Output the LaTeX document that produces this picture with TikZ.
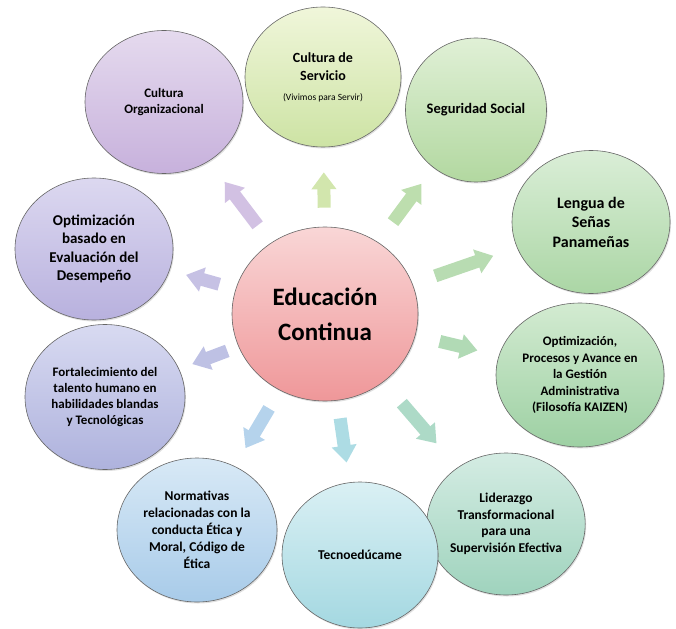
\documentclass[tikz,border=0pt]{standalone}
\usepackage{fontspec}
\setmainfont{Carlito}
\usetikzlibrary{shapes.geometric,arrows.meta,shadows}
\definecolor{rosaA}{HTML}{F9D6D6}\definecolor{rosaB}{HTML}{EF9799}
\definecolor{moradoA}{HTML}{E5DAEE}\definecolor{moradoB}{HTML}{C7B1DC}
\definecolor{limaA}{HTML}{F0F6DA}\definecolor{limaB}{HTML}{CDE3A4}
\definecolor{verdeA}{HTML}{E0F0D6}\definecolor{verdeB}{HTML}{B2D8A0}
\definecolor{pastoA}{HTML}{DAEED7}\definecolor{pastoB}{HTML}{ABD6A5}
\definecolor{mentaA}{HTML}{D3EBD1}\definecolor{mentaB}{HTML}{9DD0A3}
\definecolor{aguaA}{HTML}{D4ECE3}\definecolor{aguaB}{HTML}{9FD3BD}
\definecolor{cianA}{HTML}{DAF0F4}\definecolor{cianB}{HTML}{A4D8E1}
\definecolor{celesteA}{HTML}{D8E9F6}\definecolor{celesteB}{HTML}{A8CBE9}
\definecolor{azulA}{HTML}{D8DAF1}\definecolor{azulB}{HTML}{AEB2DD}
\definecolor{lilaA}{HTML}{DCD8F0}\definecolor{lilaB}{HTML}{B8B1DE}
\begin{document}
\begin{tikzpicture}[x=1pt,y=1pt,
    burbuja/.style={ellipse,draw=black!60,line width=.6pt,inner sep=0pt,align=center,
      drop shadow={opacity=.25,shadow xshift=1pt,shadow yshift=-1.5pt}},
    relleno/.style 2 args={top color=#1,bottom color=#2},
    flecha/.style={line width=13pt,-{Triangle[width=24pt,length=17pt]}}]
    \useasboundingbox (0,0) rectangle (676,-628);
    \node[burbuja,relleno={rosaA}{rosaB},minimum width=186pt,minimum height=174pt,font=\bfseries\fontsize{25}{35}\selectfont] (edu) at (325,-314) {Educación\\Continua};
    \node[burbuja,relleno={moradoA}{moradoB},minimum width=158pt,minimum height=143pt,font=\bfseries\fontsize{13}{16.7}\selectfont] (org) at (164,-102) {Cultura\\Organizacional};
    \node[burbuja,relleno={limaA}{limaB},minimum width=156pt,minimum height=140pt,font=\bfseries\fontsize{14}{18}\selectfont] (serv) at (323,-77) {Cultura de\\Servicio\\[2pt]{\mdseries\fontsize{9.5}{12}\selectfont(Vivimos para Servir)}};
    \node[burbuja,relleno={verdeA}{verdeB},minimum width=141pt,minimum height=144pt,font=\bfseries\fontsize{14.5}{18}\selectfont] (seg) at (476,-110) {Seguridad Social};
    \node[burbuja,relleno={pastoA}{pastoB},minimum width=158pt,minimum height=143pt,font=\bfseries\fontsize{16}{19.5}\selectfont] (senas) at (591,-222) {Lengua de\\Señas\\Panameñas};
    \node[burbuja,relleno={mentaA}{mentaB},minimum width=168pt,minimum height=144pt,font=\bfseries\fontsize{13}{16.5}\selectfont] (kaizen) at (580,-375) {Optimización,\\Procesos y Avance en\\la Gestión\\Administrativa\\(Filosofía KAIZEN)};
    \node[burbuja,relleno={aguaA}{aguaB},minimum width=142pt,minimum height=142pt,font=\bfseries\fontsize{13.5}{16.5}\selectfont] (lider) at (506,-524) {Liderazgo\\Transformacional\\para una\\Supervisión Efectiva};
    \node[burbuja,relleno={cianA}{cianB},minimum width=156pt,minimum height=146pt,font=\bfseries\fontsize{13.5}{16.5}\selectfont] (tecno) at (360,-555) {Tecnoedúcame};
    \node[burbuja,relleno={celesteA}{celesteB},minimum width=160pt,minimum height=144pt,font=\bfseries\fontsize{13.5}{17}\selectfont] (norma) at (197,-530) {Normativas\\relacionadas con la\\conducta Ética y\\Moral, Código de\\Ética};
    \node[burbuja,relleno={azulA}{azulB},minimum width=160pt,minimum height=145pt,font=\bfseries\fontsize{13}{15.7}\selectfont] (talento) at (105,-397) {Fortalecimiento del\\talento humano en\\habilidades blandas\\y Tecnológicas};
    \node[burbuja,relleno={lilaA}{lilaB},minimum width=158pt,minimum height=142pt,font=\bfseries\fontsize{15}{18.3}\selectfont] (desemp) at (94,-249) {Optimización\\basado en\\Evaluación del\\Desempeño};
    \draw[flecha,moradoB!80,shorten <=22pt,shorten >=26pt] (edu) -- (org);
    \draw[flecha,limaB!90,shorten <=19pt,shorten >=25pt] (edu) -- (serv);
    \draw[flecha,verdeB!85,shorten <=25pt,shorten >=20pt] (edu) -- (seg);
    \draw[flecha,pastoB!85,shorten <=24pt,shorten >=25pt] (edu) -- (senas);
    \draw[flecha,mentaB!80,shorten <=25pt,shorten >=22pt] (edu) -- (kaizen);
    \draw[flecha,aguaB!85,shorten <=28pt,shorten >=32pt] (edu) -- (lider);
    \draw[flecha,cianB!90,shorten <=18pt,shorten >=20pt] (edu) -- (tecno);
    \draw[flecha,celesteB!85,shorten <=21pt,shorten >=21pt] (edu) -- (norma);
    \draw[flecha,azulB!80,shorten <=12pt,shorten >=14pt] (edu) -- (talento);
    \draw[flecha,lilaB!80,shorten <=17pt,shorten >=17pt] (edu) -- (desemp);
\end{tikzpicture}
\end{document}
